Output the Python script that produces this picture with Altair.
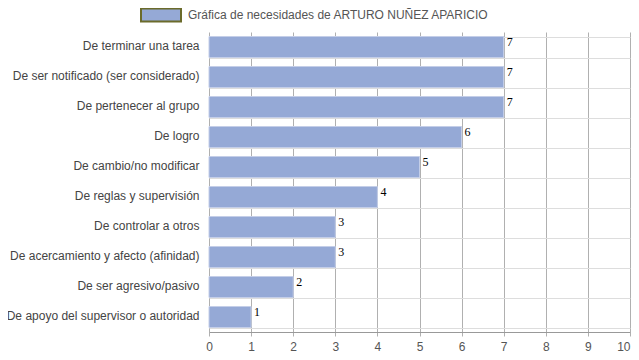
import altair as alt
import pandas as pd

categories = [
    "De terminar una tarea",
    "De ser notificado (ser considerado)",
    "De pertenecer al grupo",
    "De logro",
    "De cambio/no modificar",
    "De reglas y supervisión",
    "De controlar a otros",
    "De acercamiento y afecto (afinidad)",
    "De ser agresivo/pasivo",
    "De apoyo del supervisor o autoridad",
]
values = [7, 7, 7, 6, 5, 4, 3, 3, 2, 1]
series_name = "Gráfica de necesidades de ARTURO NUÑEZ APARICIO"

df = pd.DataFrame({"cat": categories, "val": values, "serie": series_name})

y_enc = alt.Y("cat:N", sort=categories, title=None,
              scale=alt.Scale(paddingInner=0.3, paddingOuter=0.15),
              axis=alt.Axis(tickBand="extent", grid=True, gridColor="#dddddd",
                            ticks=False, domain=False, labelFont="Arial",
                            labelFontSize=12, labelColor="#444444",
                            labelPadding=10, labelLimit=260, labelOffset=-2))
x_enc = alt.X("val:Q", title=None,
              scale=alt.Scale(domain=[0, 10], nice=False),
              axis=alt.Axis(values=list(range(11)), grid=True, gridColor="#b0b0b0",
                            domainColor="#999999", tickColor="#b0b0b0", tickSize=4,
                            labelFont="Arial", labelFontSize=12, labelColor="#555555",
                            labelPadding=5, labelFlush=False,
                            labelAlign={"expr": "datum.value == 10 ? 'right' : 'center'"}))

bars = alt.Chart(df).mark_bar(stroke="#c4cee8", strokeWidth=1).encode(
    x=x_enc, y=y_enc,
    color=alt.Color("serie:N", title=None,
                    scale=alt.Scale(range=["#95a9d6"]),
                    legend=alt.Legend(orient="none", legendX=-69, legendY=-38,
                                      symbolType="M-1,-0.32H1V0.32H-1Z",
                                      symbolSize=1600, symbolStrokeColor="#6b6b2b",
                                      symbolStrokeWidth=2, symbolOpacity=1,
                                      labelFont="Arial", labelFontSize=12,
                                      labelColor="#555555", labelLimit=400,
                                      labelOffset=6)),
)

labels = alt.Chart(df).mark_text(align="left", baseline="top", dx=3, yOffset=-10,
                                 font="Liberation Serif", fontSize=12,
                                 color="#000000").encode(
    x="val:Q", y=alt.Y("cat:N", sort=categories), text="val:Q")

chart = (bars + labels).properties(
    width=421, height=300, autosize="none",
    padding={"left": 201, "top": 24, "right": 1, "bottom": 20},
).configure_view(stroke=None)

chart.save("out.html", embed_options={"renderer": "svg", "actions": False})
